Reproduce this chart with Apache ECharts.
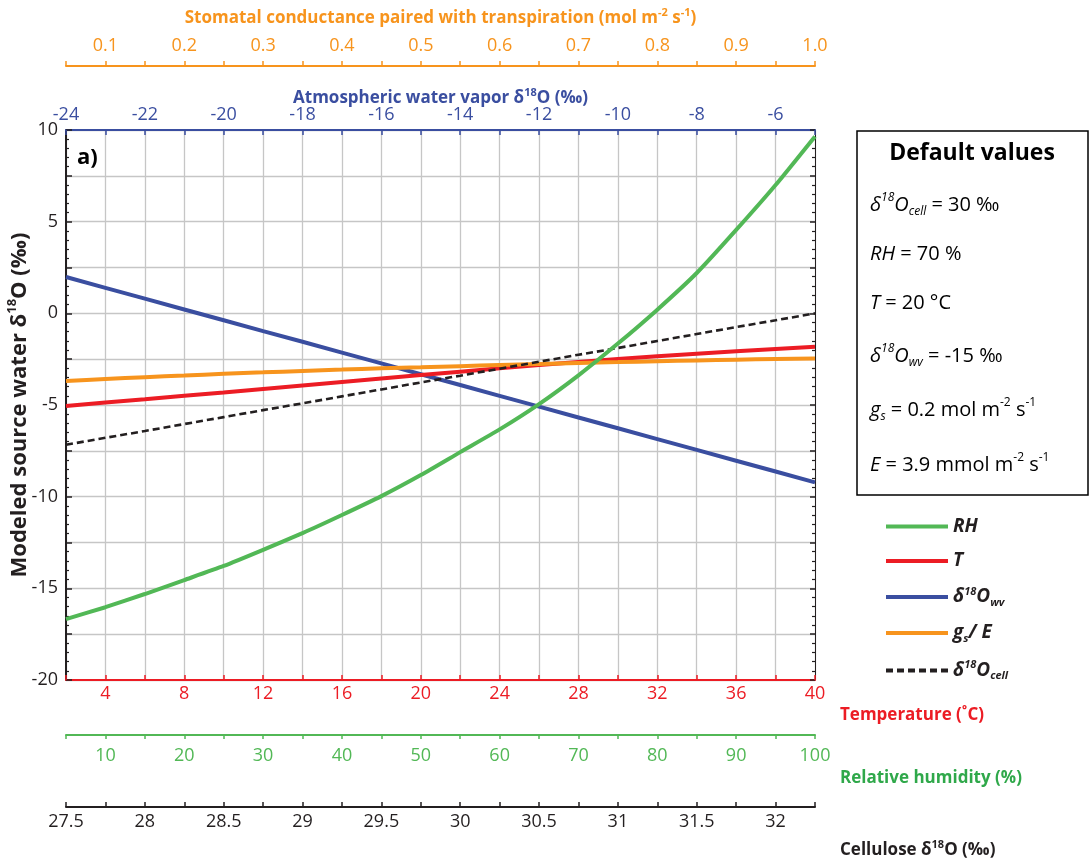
<!DOCTYPE html>
<html>
<head>
<meta charset="utf-8">
<script src="https://cdn.jsdelivr.net/npm/echarts@6.0.0/dist/echarts.min.js"></script>
<style>html,body{margin:0;padding:0;background:#fff}#main{width:1092px;height:863px}</style>
</head>
<body>
<div id="main"></div>
<script>
var dom = document.getElementById("main");
var myChart = echarts.init(dom);

var FONT = '"Open Sans", "DejaVu Sans", sans-serif';
var RED = '#ec1c24', GREEN = '#52b856', GREEN_T = '#2fa84a', BLUE = '#3a4ea0', ORANGE = '#f7941d', BLACK = '#231f20';

// temperature (degC) vs modeled source water
var tempX = [2, 4, 6, 8, 10, 12, 14, 16, 18, 20, 22, 24, 26, 28, 30, 32, 34, 36, 38, 40];
var tempY = [-5.06, -4.87, -4.69, -4.5, -4.32, -4.13, -3.94, -3.75, -3.56, -3.37, -3.18, -3.0, -2.82, -2.65, -2.49, -2.34, -2.2, -2.07, -1.94, -1.82];

// relative humidity (%)
var rhX = [5, 10, 15, 20, 25, 30, 35, 40, 45, 50, 55, 60, 65, 70, 75, 80, 85, 90, 95, 100];
var rhY = [-16.68, -16.03, -15.31, -14.55, -13.78, -12.9, -11.99, -11.0, -9.97, -8.82, -7.57, -6.33, -4.95, -3.38, -1.65, 0.2, 2.2, 4.55, 7.0, 9.65];

// atmospheric water vapor d18O
var wvX = [-24, -23, -22, -21, -20, -19, -18, -17, -16, -15, -14, -13, -12, -11, -10, -9, -8, -7, -6, -5];
var wvY = [1.98, 1.39, 0.8, 0.21, -0.38, -0.97, -1.55, -2.14, -2.73, -3.32, -3.91, -4.5, -5.09, -5.68, -6.27, -6.86, -7.45, -8.04, -8.63, -9.22];

// stomatal conductance paired with transpiration
var gsX = [0.05, 0.1, 0.15, 0.2, 0.25, 0.3, 0.35, 0.4, 0.45, 0.5, 0.55, 0.6, 0.65, 0.7, 0.75, 0.8, 0.85, 0.9, 0.95, 1.0];
var gsY = [-3.69, -3.58, -3.48, -3.39, -3.3, -3.22, -3.14, -3.07, -3.0, -2.94, -2.88, -2.82, -2.76, -2.71, -2.66, -2.61, -2.57, -2.53, -2.49, -2.46];

// cellulose d18O
var cellX = [27.5, 27.75, 28, 28.25, 28.5, 28.75, 29, 29.25, 29.5, 29.75, 30, 30.25, 30.5, 30.75, 31, 31.25, 31.5, 31.75, 32, 32.25];
var cellY = [-7.17, -6.79, -6.42, -6.04, -5.66, -5.28, -4.91, -4.53, -4.15, -3.77, -3.4, -3.02, -2.64, -2.26, -1.89, -1.51, -1.13, -0.75, -0.38, 0.0];

function pairs(xs, ys) {
    return xs.map(function (x, i) { return [x, ys[i]]; });
}
function everyStep(step, digits) {
    return function (v) {
        var k = v / step;
        if (Math.abs(k - Math.round(k)) > 1e-6) return '';
        return digits ? v.toFixed(digits) : String(Math.round(v * 1000) / 1000);
    };
}

var tickFont = {fontFamily: FONT, fontSize: 18};
var nameFont = {fontFamily: FONT, fontSize: 17, fontWeight: 'bold'};
var supRich = function (color) {
    return {
        sup: {fontFamily: FONT, fontSize: 11, fontWeight: 'bold', color: color, verticalAlign: 'top', lineHeight: 12},
        b: {fontFamily: FONT, fontSize: 17, fontWeight: 'bold', color: color, lineHeight: 22}
    };
};

var xAxes = [
    { // 0 temperature
        type: 'value', position: 'bottom', offset: 0, min: 2, max: 40, interval: 2,
        axisLine: {onZero: false, lineStyle: {color: RED, width: 2}},
        axisTick: {inside: true, length: 5, lineStyle: {color: RED, width: 1.5}},
        axisLabel: Object.assign({color: RED, margin: 5, formatter: everyStep(4)}, tickFont),
        splitLine: {show: true, lineStyle: {color: '#c6c6c6', width: 1.3}},
        name: '{b|Temperature (˚C)}', nameLocation: 'end', nameGap: 25, nameMoveOverlap: false,
        nameTextStyle: Object.assign({color: RED, align: 'left', padding: [70, 0, 0, 0], rich: supRich(RED)}, nameFont)
    },
    { // 1 relative humidity
        type: 'value', position: 'bottom', offset: 55, min: 5, max: 100, interval: 5,
        axisLine: {onZero: false, lineStyle: {color: GREEN, width: 2}},
        axisTick: {inside: false, length: 4, lineStyle: {color: GREEN, width: 1.5}},
        axisLabel: Object.assign({color: GREEN, margin: 12, formatter: everyStep(10)}, tickFont),
        splitLine: {show: false},
        name: '{b|Relative humidity (%)}', nameLocation: 'end', nameGap: 25, nameMoveOverlap: false,
        nameTextStyle: Object.assign({color: GREEN_T, align: 'left', padding: [86, 0, 0, 0], rich: supRich(GREEN_T)}, nameFont)
    },
    { // 2 cellulose
        type: 'value', position: 'bottom', offset: 127, min: 27.5, max: 32.25, interval: 0.25,
        axisLine: {onZero: false, lineStyle: {color: BLACK, width: 2}},
        axisTick: {inside: true, length: 5, lineStyle: {color: BLACK, width: 1.5}},
        axisLabel: Object.assign({color: BLACK, margin: 6, formatter: everyStep(0.5)}, tickFont),
        splitLine: {show: false},
        name: '{b|Cellulose δ}{sup|18}{b|O (‰)}', nameLocation: 'end', nameGap: 25, nameMoveOverlap: false,
        nameTextStyle: Object.assign({color: BLACK, align: 'left', padding: [86, 0, 0, 0], rich: supRich(BLACK)}, nameFont)
    },
    { // 3 water vapor
        type: 'value', position: 'top', offset: 0, min: -24, max: -5, interval: 1,
        axisLine: {onZero: false, lineStyle: {color: BLUE, width: 2}},
        axisTick: {inside: true, length: 5, lineStyle: {color: BLUE, width: 1.5}},
        axisLabel: Object.assign({color: BLUE, margin: 6, formatter: everyStep(2)}, tickFont),
        splitLine: {show: false},
        name: '{b|Atmospheric water vapor δ}{sup|18}{b|O (‰)}', nameLocation: 'middle', nameGap: 21, nameMoveOverlap: false,
        nameTextStyle: Object.assign({color: BLUE, rich: supRich(BLUE)}, nameFont)
    },
    { // 4 stomatal conductance
        type: 'value', position: 'top', offset: 64, min: 0.05, max: 1.0, interval: 0.05,
        axisLine: {onZero: false, lineStyle: {color: ORANGE, width: 2}},
        axisTick: {inside: false, length: 5, lineStyle: {color: ORANGE, width: 1.5}},
        axisLabel: Object.assign({color: ORANGE, margin: 11, formatter: everyStep(0.1, 1)}, tickFont),
        splitLine: {show: false},
        name: '{b|Stomatal conductance paired with transpiration (mol m}{sup|-2}{b| s}{sup|-1}{b|)}',
        nameLocation: 'middle', nameGap: 37, nameMoveOverlap: false,
        nameTextStyle: Object.assign({color: ORANGE, rich: supRich(ORANGE)}, nameFont)
    }
];

var yAxes = [
    {
        type: 'value', position: 'left', min: -20, max: 10, interval: 2.5,
        axisLine: {show: true, onZero: false, lineStyle: {color: BLACK, width: 2}},
        axisTick: {show: true, inside: true, length: 6, lineStyle: {color: BLACK, width: 1.5}},
        minorTick: {show: true, splitNumber: 5, length: 3, lineStyle: {color: BLACK, width: 1.2}},
        axisLabel: Object.assign({color: BLACK, margin: 8, formatter: everyStep(5)}, tickFont),
        splitLine: {show: true, lineStyle: {color: '#c6c6c6', width: 1.3}},
        name: '{b|Modeled source water δ}{sup|18}{b|O (‰)}', nameLocation: 'middle', nameGap: 32, nameMoveOverlap: false,
        nameTextStyle: {
            color: BLACK, fontFamily: FONT, fontSize: 22, fontWeight: 'bold',
            rich: {
                b: {fontFamily: FONT, fontSize: 22, fontWeight: 'bold', color: BLACK, lineHeight: 28},
                sup: {fontFamily: FONT, fontSize: 13, fontWeight: 'bold', color: BLACK, verticalAlign: 'top', lineHeight: 14}
            }
        }
    },
    {
        type: 'value', position: 'right', min: -20, max: 10, interval: 2.5,
        axisLine: {show: true, onZero: false, lineStyle: {color: BLACK, width: 1}},
        axisTick: {show: true, inside: true, length: 5, lineStyle: {color: BLACK, width: 1.5}},
        minorTick: {show: true, splitNumber: 5, length: 3, lineStyle: {color: BLACK, width: 1.2}},
        axisLabel: {show: false},
        splitLine: {show: false}
    }
];

var legendNames = {
    'RH': '{i|RH}',
    'T': '{i|T}',
    'wv': '{i|δ}{sup|18}{i|O}{sub|wv}',
    'gs': '{i|g}{sub|s}{i|/ E}',
    'cell': '{i|δ}{sup|18}{i|O}{sub|cell}'
};

function lineSeries(name, xIdx, data, color, width, type, smooth) {
    return {
        name: name, type: 'line', xAxisIndex: xIdx, yAxisIndex: 0,
        data: data, symbol: 'none', smooth: smooth ? 0.2 : false,
        lineStyle: {color: color, width: width, type: type || 'solid'},
        itemStyle: {color: color},
        emphasis: {disabled: true}, silent: true
    };
}

// text in the "Default values" box
function boxLine(y, text) {
    return {
        type: 'text', x: 870, y: y,
        style: {
            text: text, verticalAlign: 'middle', fill: '#000',
            fontFamily: FONT, fontSize: 20,
            rich: {
                i: {fontFamily: FONT, fontSize: 20, fontStyle: 'italic', fill: '#000', lineHeight: 26},
                n: {fontFamily: FONT, fontSize: 20, fill: '#000', lineHeight: 26},
                sup: {fontFamily: FONT, fontSize: 12, fontStyle: 'italic', fill: '#000', verticalAlign: 'top', lineHeight: 13},
                sub: {fontFamily: FONT, fontSize: 12, fontStyle: 'italic', fill: '#000', verticalAlign: 'bottom', lineHeight: 13},
                nsup: {fontFamily: FONT, fontSize: 12, fill: '#000', verticalAlign: 'top', lineHeight: 13}
            }
        }
    };
}

option = {
    animation: false,
    backgroundColor: '#fff',
    grid: {left: 66, right: 277, top: 130, bottom: 183, containLabel: false, outerBoundsMode: 'none'},
    xAxis: xAxes,
    yAxis: yAxes,
    legend: {
        orient: 'vertical', left: 884, top: 517, padding: 0,
        itemWidth: 62, itemHeight: 14, itemGap: 15.5,
        data: ['RH', 'T', 'wv', 'gs', 'cell'],
        formatter: function (n) { return legendNames[n]; },
        selectedMode: false,
        itemStyle: {opacity: 0},
        lineStyle: {width: 4},
        textStyle: {
            fontFamily: FONT, fontSize: 19, fontWeight: 'bold', fontStyle: 'italic', color: BLACK,
            rich: {
                i: {fontFamily: FONT, fontSize: 19, fontWeight: 'bold', fontStyle: 'italic', color: BLACK, lineHeight: 22},
                sup: {fontFamily: FONT, fontSize: 11, fontWeight: 'bold', fontStyle: 'italic', color: BLACK, verticalAlign: 'top', lineHeight: 12},
                sub: {fontFamily: FONT, fontSize: 11, fontWeight: 'bold', fontStyle: 'italic', color: BLACK, verticalAlign: 'bottom', lineHeight: 12}
            }
        }
    },
    series: [
        lineSeries('wv', 3, pairs(wvX, wvY), BLUE, 4),
        lineSeries('T', 0, pairs(tempX, tempY), RED, 4),
        lineSeries('gs', 4, pairs(gsX, gsY), ORANGE, 4, 'solid', true),
        lineSeries('cell', 2, pairs(cellX, cellY), BLACK, 2.6, [7, 4]),
        lineSeries('RH', 1, pairs(rhX, rhY), GREEN, 4, 'solid', true)
    ],
    graphic: [
        {type: 'text', x: 77, y: 158, style: {text: 'a)', fontFamily: FONT, fontSize: 22, fontWeight: 'bold', fill: '#000', verticalAlign: 'middle'}},
        {type: 'rect', shape: {x: 857, y: 131, width: 231, height: 364}, style: {fill: '#fff', stroke: '#000', lineWidth: 1.5}},
        {type: 'text', x: 972, y: 153, style: {text: 'Default values', align: 'center', verticalAlign: 'middle', fontFamily: FONT, fontSize: 23, fontWeight: 'bold', fill: '#000'}},
        boxLine(205, '{i|δ}{sup|18}{i|O}{sub|cell}{n| = 30 ‰}'),
        boxLine(254, '{i|RH}{n| = 70 %}'),
        boxLine(303, '{i|T}{n| = 20 °C}'),
        boxLine(356, '{i|δ}{sup|18}{i|O}{sub|wv}{n| = -15 ‰}'),
        boxLine(410, '{i|g}{sub|s}{n| = 0.2 mol m}{nsup|-2}{n| s}{nsup|-1}'),
        boxLine(465, '{i|E}{n| = 3.9 mmol m}{nsup|-2}{n| s}{nsup|-1}')
    ]
};

if (option && typeof option === "object") {
    myChart.setOption(option, true);
}

window.addEventListener("resize", function () {
    myChart.resize();
});
</script>
</body>
</html>
